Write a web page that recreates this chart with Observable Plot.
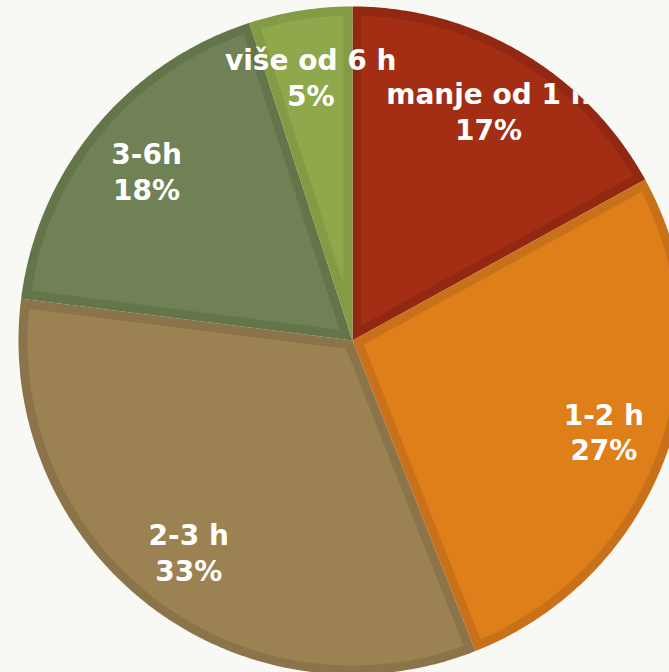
<!DOCTYPE html>
<html>
<head>
<meta charset="utf-8">
<script src="https://cdn.jsdelivr.net/npm/d3@7"></script>
<script src="https://cdn.jsdelivr.net/npm/@observablehq/plot@0.6"></script>
<style>
  html, body { margin: 0; padding: 0; background: #f8f9f4; overflow: hidden; }
  #chart svg { display: block; }
</style>
</head>
<body>
<div id="chart"></div>
<script>
const categories = ["manje od 1 h", "1-2 h", "2-3 h", "3-6h", "više od 6 h"];
const values = [17, 27, 33, 18, 5];
const percentLabels = ["17%", "27%", "33%", "18%", "5%"];
const mainColors = ["#a32e13", "#de7f1a", "#9c8252", "#708255", "#90a84c"];
const borderColors = ["#932812", "#c9711a", "#8b7449", "#647549", "#849b45"];

const W = 669, H = 672;
const cx = 352, cy = 340, R = 334;
const inset = 9 / R;

const total = d3.sum(values);
const outer = [], inner = [], labelRows = [];
let acc = 0;
values.forEach((v, i) => {
  const a0 = acc / total * 2 * Math.PI;
  acc += v;
  const a1 = acc / total * 2 * Math.PI;
  const span = a1 - a0;
  const steps = Math.max(4, Math.ceil(span / (Math.PI / 360)));
  outer.push({k: i, x: 0, y: 0, c: borderColors[i]});
  for (let s = 0; s <= steps; s++) {
    const a = a0 + span * s / steps;
    outer.push({k: i, x: Math.sin(a), y: Math.cos(a), c: borderColors[i]});
  }
  const mid = (a0 + a1) / 2;
  const apexR = inset / Math.sin(span / 2);
  inner.push({k: i, x: apexR * Math.sin(mid), y: apexR * Math.cos(mid), c: mainColors[i]});
  const r2 = 1 - inset;
  const dA = Math.asin(inset / r2);
  const b0 = a0 + dA, b1 = a1 - dA;
  for (let s = 0; s <= steps; s++) {
    const a = b0 + (b1 - b0) * s / steps;
    inner.push({k: i, x: r2 * Math.sin(a), y: r2 * Math.cos(a), c: mainColors[i]});
  }
  labelRows.push({x: 0.8 * Math.sin(mid), y: 0.8 * Math.cos(mid), t: categories[i] + "\n" + percentLabels[i]});
});

const chart = Plot.plot({
  width: W,
  height: H,
  margin: 0,
  style: {background: "#f8f9f4", overflow: "hidden"},
  x: {domain: [-1, 1], range: [cx - R, cx + R], axis: null},
  y: {domain: [-1, 1], range: [cy + R, cy - R], axis: null},
  color: {type: "identity"},
  marks: [
    Plot.line(outer, {x: "x", y: "y", z: "k", fill: "c", stroke: "none", curve: "linear-closed"}),
    Plot.line(inner, {x: "x", y: "y", z: "k", fill: "c", stroke: "none", curve: "linear-closed"}),
    Plot.text(labelRows, {
      x: "x", y: "y", text: "t", fill: "white",
      fontSize: 28, fontWeight: "bold", lineHeight: 1.28,
      fontFamily: "DejaVu Sans"
    })
  ]
});

// clip the labels to the pie disc, as in the original
const svg = d3.select(chart);
const sx = chart.scale("x"), sy = chart.scale("y");
const rPix = sx.apply(1) - sx.apply(0);
svg.append("defs").append("clipPath").attr("id", "pieclip")
  .append("circle").attr("cx", sx.apply(0)).attr("cy", sy.apply(0)).attr("r", rPix);
svg.selectAll("g[aria-label='text']").attr("clip-path", "url(#pieclip)");

document.getElementById("chart").appendChild(chart);
</script>
</body>
</html>
